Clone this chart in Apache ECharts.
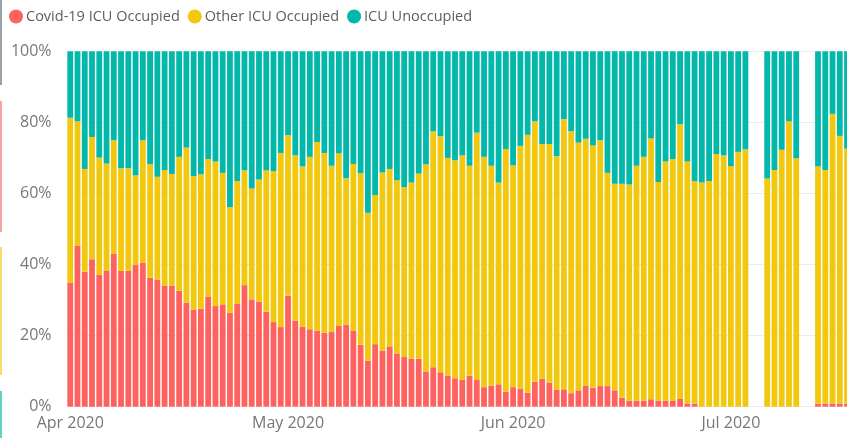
<!DOCTYPE html>
<html>
<head>
<meta charset="utf-8">
<script src="https://cdn.jsdelivr.net/npm/echarts@6/dist/echarts.min.js"></script>
<style>
  html, body { margin: 0; padding: 0; background: #fff; }
  #chart { width: 847px; height: 438px; }
</style>
</head>
<body>
<div id="chart"></div>
<script>
// Daily ICU bed occupancy, shares of all ICU beds (%), from 1 April 2020.
// null = no report for that day.
const startDate = '2020-04-01';
const dayCount = 108;

const covidOccupied = [
  34.9, 45.2, 38.0, 41.5, 37.1, 38.3, 43.1, 38.2, 38.2, 39.9,
  40.5, 36.3, 35.8, 34.1, 34.1, 32.6, 29.3, 27.3, 27.6, 30.9,
  28.3, 28.8, 26.4, 28.9, 34.2, 30.2, 29.5, 26.7, 23.8, 22.4,
  31.2, 24.2, 22.5, 21.8, 21.4, 20.8, 21.0, 22.7, 23.1, 21.3,
  17.4, 12.9, 17.6, 15.8, 16.8, 15.0, 14.0, 13.5, 13.5, 9.9,
  11.1, 9.7, 8.8, 8.0, 7.5, 8.7, 7.5, 5.5, 5.9, 6.3,
  4.2, 5.5, 5.1, 3.9, 7.0, 7.9, 6.8, 4.7, 4.9, 3.8,
  4.6, 5.9, 5.3, 5.8, 5.8, 4.6, 2.5, 1.7, 1.7, 1.7,
  2.1, 1.7, 1.7, 1.7, 2.2, 0.9, 0.9, 0, 0, 0,
  0, 0, 0, 0, null, null, 0, 0, 0, 0,
  0, null, null, 0.9, 0.9, 0.9, 0.9, 0.9
];

const otherOccupied = [
  46.4, 35.1, 28.9, 34.4, 33.0, 30.1, 31.9, 28.9, 28.9, 25.2,
  34.5, 31.9, 28.9, 32.5, 31.4, 37.7, 43.6, 37.6, 37.8, 38.8,
  40.7, 37.0, 29.8, 34.6, 32.3, 31.3, 34.4, 39.8, 42.5, 49.0,
  45.2, 46.5, 45.1, 48.5, 53.1, 50.6, 46.8, 48.6, 41.2, 47.0,
  48.3, 41.7, 42.0, 50.1, 50.1, 48.7, 47.8, 49.6, 52.1, 58.3,
  66.4, 66.4, 61.2, 61.3, 63.2, 59.1, 69.6, 64.8, 61.9, 56.8,
  68.3, 62.4, 68.3, 72.6, 73.3, 66.0, 67.1, 65.8, 76.0, 73.7,
  69.7, 69.5, 68.2, 69.2, 60.0, 58.1, 60.2, 60.8, 66.1, 68.6,
  73.4, 61.5, 67.3, 68.0, 77.3, 68.1, 62.6, 63.1, 63.5, 71.1,
  70.7, 67.7, 71.7, 72.4, null, null, 64.2, 66.6, 72.3, 80.3,
  69.9, null, null, 66.7, 65.7, 81.5, 75.3, 71.7
];

const unoccupied = [
  18.7, 19.7, 33.1, 24.1, 29.9, 31.6, 25.0, 32.9, 32.9, 34.9,
  25.0, 31.8, 35.3, 33.4, 34.5, 29.7, 27.1, 35.1, 34.6, 30.3,
  31.0, 34.2, 43.8, 36.5, 33.5, 38.5, 36.1, 33.5, 33.7, 28.6,
  23.6, 29.3, 32.4, 29.7, 25.5, 28.6, 32.2, 28.7, 35.7, 31.7,
  34.3, 45.4, 40.4, 34.1, 33.1, 36.3, 38.2, 36.9, 34.4, 31.8,
  22.5, 23.9, 30.0, 30.7, 29.3, 32.2, 22.9, 29.7, 32.2, 36.9,
  27.5, 32.1, 26.6, 23.5, 19.7, 26.1, 26.1, 29.5, 19.1, 22.5,
  25.7, 24.6, 26.5, 25.0, 34.2, 37.3, 37.3, 37.5, 32.2, 29.7,
  24.5, 36.8, 31.0, 30.3, 20.5, 31.0, 36.5, 36.9, 36.5, 28.9,
  29.3, 32.3, 28.3, 27.6, null, null, 35.8, 33.4, 27.7, 19.7,
  30.1, null, null, 32.4, 33.4, 17.6, 23.8, 27.4
];

const seriesNames = ['Covid-19 ICU Occupied', 'Other ICU Occupied', 'ICU Unoccupied'];
const seriesColors = ['#FD625E', '#F2C80F', '#01B8AA'];
const monthNames = ['Jan', 'Feb', 'Mar', 'Apr', 'May', 'Jun', 'Jul', 'Aug', 'Sep', 'Oct', 'Nov', 'Dec'];
const yTicks = [0, 20, 40, 60, 80, 100];

// Consecutive calendar days for the category axis.
const days = [];
{
  const d0 = new Date(startDate + 'T00:00:00Z');
  for (let i = 0; i < dayCount; i++) {
    const d = new Date(d0.getTime() + i * 86400000);
    days.push(d.toISOString().slice(0, 10));
  }
}

const FONT = '"Open Sans", "Noto Sans", sans-serif';
const bandPx = 7.26;
const gridLeft = 66.6;

const chart = echarts.init(document.getElementById('chart'), null, { renderer: 'canvas' });

chart.setOption({
  animation: false,
  textStyle: { fontFamily: FONT },
  legend: {
    left: 9,
    top: 9,
    icon: 'circle',
    itemWidth: 14,
    itemHeight: 14,
    itemGap: 8,
    padding: 0,
    textStyle: { color: '#605e5c', fontSize: 14.5, fontFamily: FONT, padding: [0, 0, 0, -2] },
    data: seriesNames
  },
  grid: {
    left: gridLeft,
    top: 51.3,
    width: bandPx * dayCount,
    height: 355.4,
    containLabel: false,
    outerBoundsMode: 'none'
  },
  xAxis: {
    type: 'category',
    data: days,
    boundaryGap: true,
    axisLine: { show: false },
    axisTick: { show: false },
    axisLabel: {
      interval: (idx, val) => val.endsWith('-01'),
      formatter: (val) => monthNames[+val.slice(5, 7) - 1] + ' ' + val.slice(0, 4),
      color: '#777',
      fontSize: 16,
      fontFamily: FONT,
      margin: 9,
      hideOverlap: false
    }
  },
  yAxis: {
    type: 'value',
    min: yTicks[0],
    max: yTicks[yTicks.length - 1],
    interval: 20,
    axisLine: { show: false },
    axisTick: { show: false },
    splitLine: { lineStyle: { color: '#ececec', width: 1 } },
    axisLabel: {
      formatter: '{value}%',
      color: '#777',
      fontSize: 16,
      fontFamily: FONT,
      margin: 15
    }
  },
  series: [covidOccupied, otherOccupied, unoccupied].map((vals, k) => ({
    name: seriesNames[k],
    type: 'bar',
    stack: 'icu',
    data: vals,
    barCategoryGap: '20%',
    itemStyle: { color: seriesColors[k] },
    emphasis: { disabled: true }
  })),
  // Thin coloured edges of neighbouring panels along the left border.
  graphic: [
    { type: 'rect', shape: { x: 0, y: 0, width: 2, height: 85 }, style: { fill: '#9aa4a8' } },
    { type: 'rect', shape: { x: 0, y: 101, width: 2, height: 131 }, style: { fill: '#f7a3a1' } },
    { type: 'rect', shape: { x: 0, y: 247, width: 2, height: 128 }, style: { fill: '#f5dc6f' } },
    { type: 'rect', shape: { x: 0, y: 391, width: 2, height: 47 }, style: { fill: '#63d0c7' } }
  ]
});
</script>
</body>
</html>
